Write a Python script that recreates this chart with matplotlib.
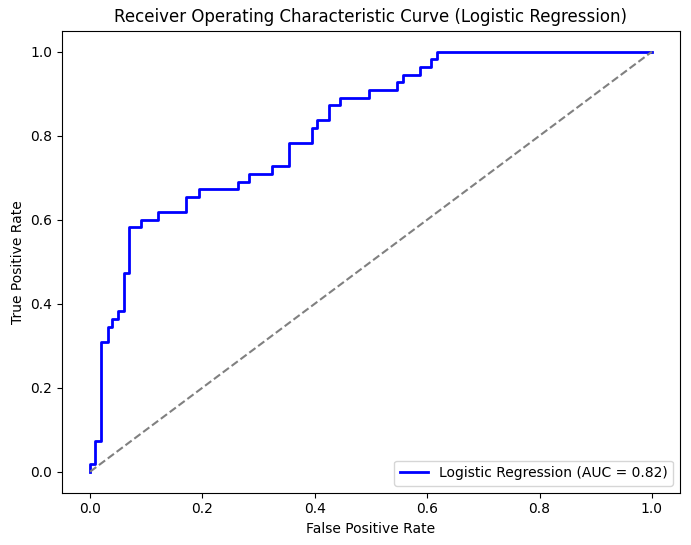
import matplotlib.pyplot as plt

# ROC curve (55 positives)
n_pos = 55
fpr_jumps = [0.0, 0.0096, 0.0196, 0.031, 0.039, 0.050, 0.0605, 0.069, 0.0914,
             0.121, 0.1715, 0.193, 0.264, 0.283, 0.324, 0.354, 0.395, 0.404,
             0.425, 0.445, 0.4964, 0.546, 0.5577, 0.587, 0.6075, 0.617]
tp_counts = [1, 4, 17, 19, 20, 21, 26, 32, 33, 34, 36, 37, 38, 39, 40, 43,
             45, 46, 48, 49, 50, 51, 52, 53, 54, 55]
roc_auc = 0.82

fpr = [0.0] + fpr_jumps + [1.0]
tpr = [0.0] + [c / n_pos for c in tp_counts] + [1.0]

fig = plt.figure(figsize=(6.91, 5.45), dpi=100)
ax = fig.add_axes([62 / 691, 52.3 / 545, 618 / 691, 462 / 545])
ax.step(fpr, tpr, where='post', color='blue', lw=2,
        label=f'Logistic Regression (AUC = {roc_auc:.2f})')
ax.plot([0, 1], [0, 1], color='gray', linestyle='--')
ax.set_xlabel('False Positive Rate')
ax.set_ylabel('True Positive Rate')
ax.set_title('Receiver Operating Characteristic Curve (Logistic Regression)')
ax.legend(loc='lower right')

fig.savefig('out.png', dpi=100)
